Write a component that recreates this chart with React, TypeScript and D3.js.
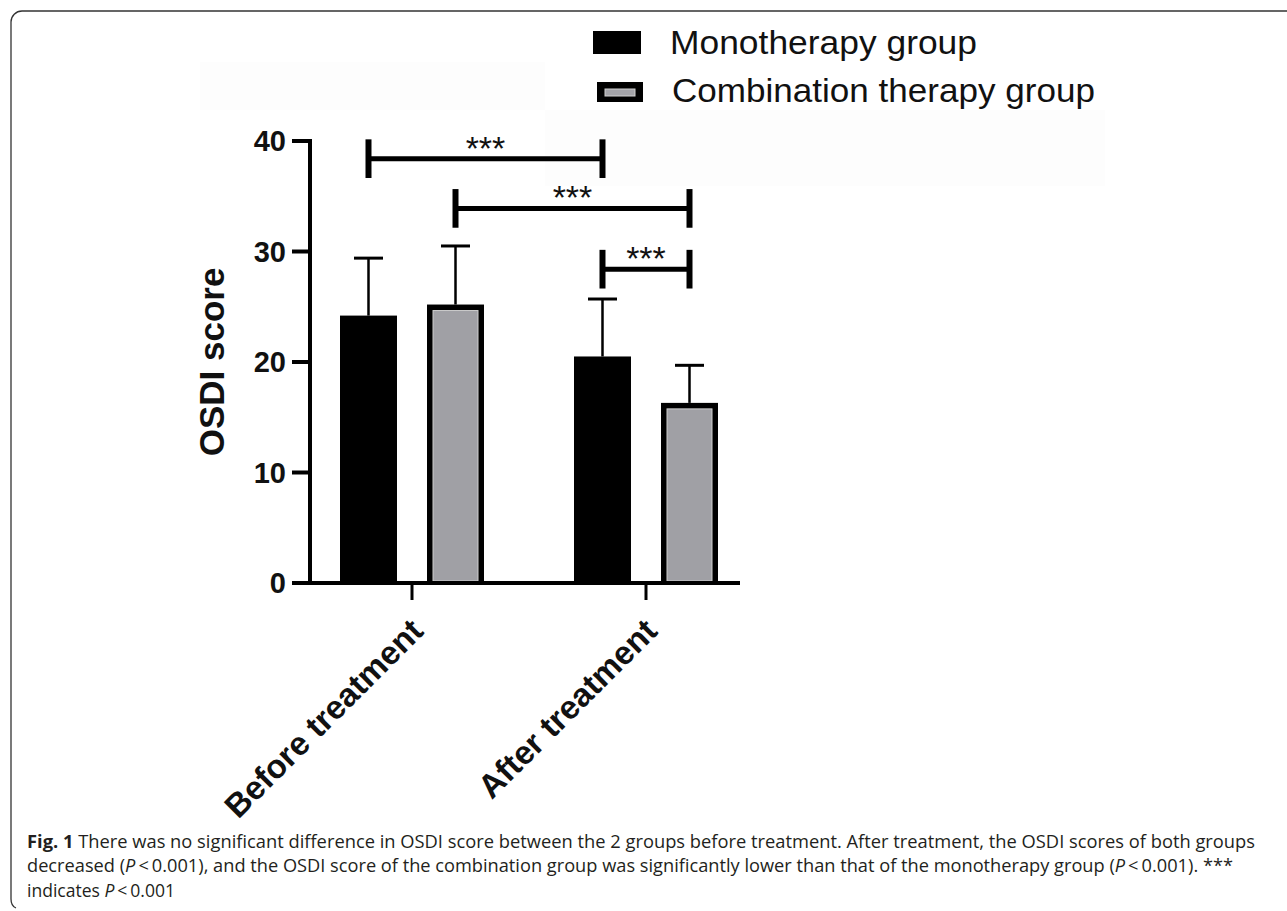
import React from "react";
import * as d3 from "d3";

const groups = ["Before treatment", "After treatment"];
const seriesNames = ["Monotherapy group", "Combination therapy group"];
const monoMeans = [24.2, 20.5];
const monoSD = [5.2, 5.2];
const comboMeans = [25.2, 16.3];
const comboSD = [5.3, 3.4];
const yTicks = [0, 10, 20, 30, 40];
// significance brackets: [group, series] -> [group, series], level
const brackets = [
  { a: [0, 0], b: [1, 0], level: 38.4, label: "***" },
  { a: [0, 1], b: [1, 1], level: 33.9, label: "***" },
  { a: [1, 0], b: [1, 1], level: 28.4, label: "***" },
];
const captionLines = [
  "There was no significant difference in OSDI score between the 2 groups before treatment. After treatment, the OSDI scores of both groups",
];

const FONT = "'Liberation Sans', Arial, Helvetica, sans-serif";
const CAP_FONT = "'Open Sans', 'Noto Sans', sans-serif";

export default function App() {
  const y = d3.scaleLinear().domain([0, 40]).range([583, 141]);
  const x0 = d3.scaleBand<string>().domain(groups).range([295, 763]).paddingInner(0).paddingOuter(0);
  const x1 = d3.scaleBand<string>().domain(seriesNames).range([-72, 72]).paddingInner(0.345).paddingOuter(0);
  const bw = x1.bandwidth();

  const bars = groups.flatMap((g, gi) => [
    { g, gi, s: seriesNames[0], si: 0, mean: monoMeans[gi], sd: monoSD[gi] },
    { g, gi, s: seriesNames[1], si: 1, mean: comboMeans[gi], sd: comboSD[gi] },
  ]);
  const barX = (gi: number, si: number) => (x0(groups[gi]) as number) + x0.bandwidth() / 2 + (x1(seriesNames[si]) as number);
  const barCx = (gi: number, si: number) => barX(gi, si) + bw / 2;

  const capHalf = 14.5;
  const bEnd = 1.75;

  return (
    <svg width={1287} height={911} style={{ position: "absolute", left: 0, top: 0, background: "#fff" }}>
      {/* faint background patches of the scanned figure */}
      <rect x={200} y={62} width={345} height={48} fill="#fdfdfd" />
      <rect x={545} y={110} width={560} height={76} fill="#fdfdfd" />

      {/* figure frame */}
      <path d="M1287,11 H22 A11,11 0 0 0 11,22 V899 Q11,906 16,908" fill="none" stroke="#333" strokeWidth={1.3} />

      {/* legend */}
      <rect x={593} y={31} width={48} height={23} fill="#000" />
      <text x={670} y={54} fontFamily={FONT} fontSize={33} textLength={307} lengthAdjust="spacingAndGlyphs" fill="#111">{seriesNames[0]}</text>
      <rect x={597} y={82} width={46} height={20} fill="#000" />
      <rect x={605} y={89} width={30} height={7} fill="#a3a3a8" stroke="#d0d0d0" strokeWidth={1} />
      <text x={672} y={102} fontFamily={FONT} fontSize={33} textLength={423} lengthAdjust="spacingAndGlyphs" fill="#111">{seriesNames[1]}</text>

      {/* bars */}
      {bars.map((b, i) => {
        const bx = barX(b.gi, b.si);
        const top = y(b.mean);
        const h = y(0) - top;
        const cx = bx + bw / 2;
        const eTop = y(b.mean + b.sd);
        return (
          <g key={i}>
            <line x1={cx} x2={cx} y1={top} y2={eTop} stroke="#000" strokeWidth={2.5} />
            <line x1={cx - capHalf} x2={cx + capHalf} y1={eTop} y2={eTop} stroke="#000" strokeWidth={3} />
            {b.si === 0 ? (
              <rect x={bx} y={top} width={bw} height={h} fill="#000" />
            ) : (
              <g>
                <rect x={bx} y={top} width={bw} height={h} fill="#000" />
                <rect x={bx + 6} y={top + 6} width={bw - 12} height={h - 8} fill="#a0a0a5" stroke="#cfcfcf" strokeWidth={1} />
              </g>
            )}
          </g>
        );
      })}

      {/* y axis */}
      <line x1={310} x2={310} y1={y(40) - 2} y2={y(0) + 2} stroke="#000" strokeWidth={4} />
      {yTicks.map((t) => (
        <g key={t}>
          <line x1={292} x2={310} y1={y(t)} y2={y(t)} stroke="#000" strokeWidth={4} />
          <text x={286} y={y(t)} dy="0.36em" textAnchor="end" fontFamily={FONT} fontWeight="bold" fontSize={29} fill="#111">{t}</text>
        </g>
      ))}
      <text transform={`translate(224,${(y(0) + y(40)) / 2}) rotate(-90)`} textAnchor="middle" fontFamily={FONT} fontWeight="bold" fontSize={35} fill="#111">OSDI score</text>

      {/* x axis */}
      <line x1={308} x2={740} y1={y(0)} y2={y(0)} stroke="#000" strokeWidth={4} />
      {groups.map((g) => {
        const cx = (x0(g) as number) + x0.bandwidth() / 2;
        return (
          <g key={g}>
            <line x1={cx} x2={cx} y1={y(0)} y2={600} stroke="#000" strokeWidth={3} />
            <text transform={`translate(${cx + 13},633) rotate(-45)`} textAnchor="end" fontFamily={FONT} fontWeight="bold" fontSize={33} fill="#111">{g}</text>
          </g>
        );
      })}

      {/* significance brackets */}
      {brackets.map((br, i) => {
        const xa = barCx(br.a[0], br.a[1]);
        const xb = barCx(br.b[0], br.b[1]);
        const yl = y(br.level);
        return (
          <g key={i}>
            <line x1={xa} x2={xb} y1={yl} y2={yl} stroke="#000" strokeWidth={5} />
            <line x1={xa} x2={xa} y1={y(br.level + bEnd)} y2={y(br.level - bEnd)} stroke="#000" strokeWidth={6} />
            <line x1={xb} x2={xb} y1={y(br.level + bEnd)} y2={y(br.level - bEnd)} stroke="#000" strokeWidth={6} />
            <text x={(xa + xb) / 2} y={yl + 1} textAnchor="middle" fontFamily={FONT} fontSize={34} fill="#111">{br.label}</text>
          </g>
        );
      })}

      {/* caption */}
      <text x={27} y={848} fontFamily={CAP_FONT} fontSize={18} fill="#231f20" textLength={1228} lengthAdjust="spacingAndGlyphs">
        <tspan fontWeight="bold">Fig. 1</tspan>
        <tspan>{"  " + captionLines[0]}</tspan>
      </text>
      <text x={27} y={872} fontFamily={CAP_FONT} fontSize={18} fill="#231f20" textLength={1206} lengthAdjust="spacingAndGlyphs">
        <tspan>decreased (</tspan>
        <tspan fontStyle="italic">P</tspan>
        <tspan>{"\u2009<\u20090.001), and the OSDI score of the combination group was significantly lower than that of the monotherapy group ("}</tspan>
        <tspan fontStyle="italic">P</tspan>
        <tspan>{"\u2009<\u20090.001). ***"}</tspan>
      </text>
      <text x={27} y={897} fontFamily={CAP_FONT} fontSize={18} fill="#231f20" textLength={148} lengthAdjust="spacingAndGlyphs">
        <tspan>indicates </tspan>
        <tspan fontStyle="italic">P</tspan>
        <tspan>{"\u2009<\u20090.001"}</tspan>
      </text>
    </svg>
  );
}
